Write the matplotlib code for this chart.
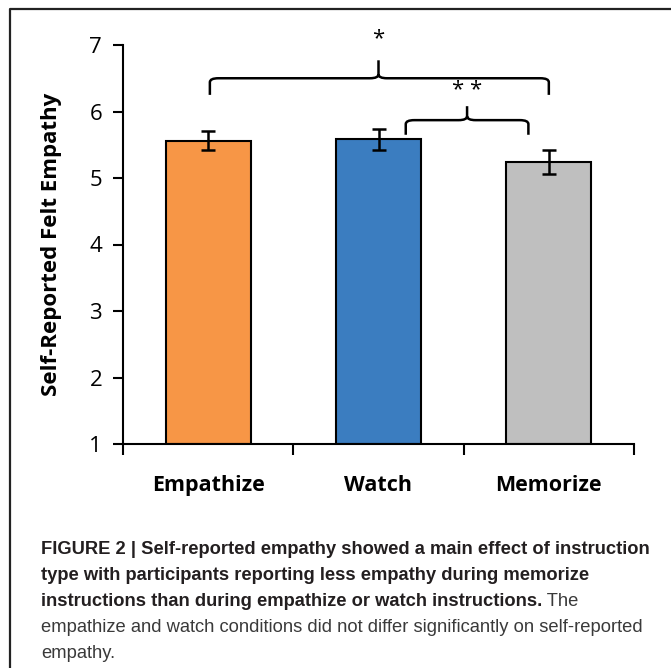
import numpy as np
import matplotlib.pyplot as plt
from matplotlib.path import Path
from matplotlib.patches import PathPatch
from matplotlib.lines import Line2D

# dados
condicoes = ["Empathize", "Watch", "Memorize"]
medias = [5.56, 5.58, 5.24]
erros = [0.14, 0.16, 0.18]
cores = ["#F79646", "#3B7DC0", "#BFBFBF"]
ticks_y = [1, 2, 3, 4, 5, 6, 7]

# colchetes de significancia: (x inicio, x fim, x pico, y barra, y pontas, y pico, y texto, rotulo)
colchetes = [
    (0.01, 2.0, 1.0, 6.50, 6.25, 6.77, 7.09, "*"),
    (1.16, 1.88, 1.52, 5.87, 5.65, 6.08, 6.31, "* *"),
]

# linhas da legenda: (texto negrito, texto normal)
linhas_legenda = [
    ("FIGURE 2 | Self-reported empathy showed a main effect of instruction", ""),
    ("type with participants reporting less empathy during memorize", ""),
    ("instructions than during empathize or watch instructions.", " The"),
    ("", "empathize and watch conditions did not differ significantly on self-reported"),
    ("", "empathy."),
]
y_linhas = [550, 576, 602, 628, 653]

fonte = ["Open Sans", "DejaVu Sans"]
fonte_leg = ["Liberation Sans", "DejaVu Sans"]

fig = plt.figure(figsize=(6.71, 6.68), dpi=100)
W, H = 671, 668

# moldura (só esquerda e topo visiveis)
fig.add_artist(Line2D([10 / W, 10 / W, 1.0], [0.0, 1 - 9 / H, 1 - 9 / H],
                      transform=fig.transFigure, color="#222222", lw=1.6))

ax = fig.add_axes([123 / W, 224 / H, 511 / W, 399 / H])
x = np.arange(len(condicoes))
ax.bar(x, [m - 1 for m in medias], bottom=1, width=0.5, color=cores,
       edgecolor="black", linewidth=1.5, zorder=2)
ax.errorbar(x, medias, yerr=erros, fmt="none", ecolor="black",
            elinewidth=1.8, capsize=5, capthick=1.8, zorder=3)

ax.set_xlim(-0.5, 2.5)
ax.set_ylim(1, 7)
ax.set_yticks(ticks_y)
ax.set_yticklabels([str(t) for t in ticks_y], fontsize=16, family=fonte)
ax.set_xticks([-0.5, 0.5, 1.5, 2.5])
ax.set_xticklabels([])
ax.tick_params(axis="y", direction="out", length=7, width=1.5, pad=8)
ax.tick_params(axis="x", direction="out", length=8, width=1.5)
for i, c in enumerate(condicoes):
    ax.text(i, 0.37, c, ha="center", va="center", fontsize=15.5,
            fontweight="bold", family=fonte, clip_on=False)
ax.spines["top"].set_visible(False)
ax.spines["right"].set_visible(False)
ax.spines["left"].set_linewidth(1.5)
ax.spines["bottom"].set_linewidth(1.5)
ax.set_ylabel("Self-Reported Felt Empathy", fontsize=16, fontweight="bold",
              family=fonte, labelpad=20)


def colchete(x0, x1, xp, yb, yp, ytopo, r=0.05, rv=0.06):
    # chave com cantos arredondados
    verts = [(x0, yp), (x0, yb - rv), (x0, yb), (x0 + r, yb),
             (xp - r, yb), (xp, yb), (xp, yb + rv), (xp, ytopo),
             (xp, yb + rv), (xp, yb), (xp + r, yb),
             (x1 - r, yb), (x1, yb), (x1, yb - rv), (x1, yp)]
    codes = [Path.MOVETO, Path.LINETO, Path.CURVE3, Path.CURVE3,
             Path.LINETO, Path.CURVE3, Path.CURVE3, Path.LINETO,
             Path.MOVETO, Path.CURVE3, Path.CURVE3,
             Path.LINETO, Path.CURVE3, Path.CURVE3, Path.LINETO]
    return PathPatch(Path(verts, codes), fill=False, lw=1.8, edgecolor="black",
                     clip_on=False, zorder=4)


for x0, x1, xp, yb, yp, ytopo, yt, rot in colchetes:
    ax.add_patch(colchete(x0, x1, xp, yb, yp, ytopo))
    ax.text(xp, yt, rot, ha="center", va="center",
            fontsize=16, family=fonte, clip_on=False)

# legenda da figura, linha a linha
renderer = fig.canvas.get_renderer()
for (negrito, normal), yl in zip(linhas_legenda, y_linhas):
    x_px = 41
    if negrito:
        tn = fig.text(x_px / W, 1 - yl / H, negrito, ha="left", va="center",
                      fontsize=13.2, fontweight="bold", color="#231F20",
                      family=fonte_leg)
        x_px = tn.get_window_extent(renderer).x1
    if normal:
        fig.text(x_px / W, 1 - yl / H, normal, ha="left", va="center",
                 fontsize=13.2, color="#3A3A3A", family=fonte_leg)

fig.savefig("out.png", dpi=100)
